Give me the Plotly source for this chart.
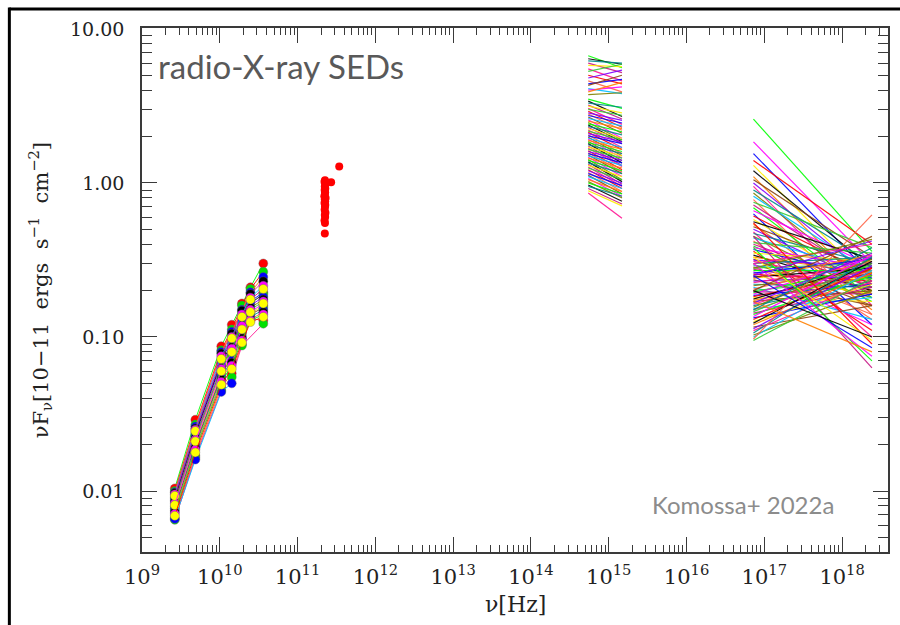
import plotly.graph_objects as go
import numpy as np

# ---------------- data ----------------
radio_freq = [2.64e9, 4.85e9, 10.45e9, 14.25e9, 19.25e9, 24.75e9, 36.25e9]
radio_epochs = [
    [0.0104, 0.0290, 0.087, 0.120, 0.165, 0.210, 0.300],
    [0.0100, 0.0270, 0.082, 0.112, 0.160, 0.205, 0.265],
    [0.0098, 0.0262, 0.080, 0.108, 0.150, 0.195, 0.245],
    [0.0097, 0.0255, 0.078, 0.105, 0.148, 0.190, 0.230],
    [0.0095, 0.0250, 0.075, 0.100, 0.140, 0.180, 0.215],
    [0.0093, 0.0245, 0.072, 0.098, 0.135, 0.175, 0.205],
    [0.0091, 0.0240, 0.070, 0.095, 0.130, 0.170, 0.195],
    [0.0089, 0.0232, 0.068, 0.090, 0.128, 0.165, 0.190],
    [0.0087, 0.0225, 0.066, 0.088, 0.125, 0.160, 0.182],
    [0.0085, 0.0220, 0.063, 0.086, 0.120, 0.155, 0.175],
    [0.0083, 0.0215, 0.062, 0.084, 0.118, 0.150, 0.170],
    [0.0081, 0.0210, 0.060, 0.080, 0.112, 0.145, 0.165],
    [0.0079, 0.0205, 0.058, 0.077, 0.108, 0.142, 0.160],
    [0.0077, 0.0200, 0.056, 0.075, 0.105, 0.140, 0.155],
    [0.0075, 0.0195, 0.055, 0.070, 0.100, 0.135, 0.150],
    [0.0073, 0.0190, 0.053, 0.068, 0.098, 0.130, 0.145],
    [0.0071, 0.0185, 0.051, 0.065, 0.095, 0.128, 0.140],
    [0.0069, 0.0178, 0.049, 0.062, 0.092, 0.125, 0.135],
    [0.0067, 0.0170, 0.047, 0.058, 0.090, 0.132, 0.128],
    [0.0065, 0.0165, 0.045, 0.055, 0.088, None, 0.122],
    [0.0066, 0.0160, 0.044, 0.050, None, None, None],
]
radio_colors = ["#ff0000", "#00e000", "#0000ff", "#000000", "#ff00ff", "#ffff00"]

mm_freq = [2.25e11, 2.22e11, 2.28e11, 2.24e11, 2.27e11, 2.23e11, 2.26e11, 2.25e11,
           2.21e11, 2.29e11, 2.24e11, 2.26e11, 2.22e11, 2.27e11, 2.25e11, 2.23e11,
           2.28e11, 2.24e11, 2.26e11, 2.22e11, 2.25e11, 2.24e11, 2.70e11, 3.43e11]
mm_flux = [1.04, 1.02, 0.98, 0.95, 0.92, 0.90, 0.87, 0.85,
           0.82, 0.80, 0.78, 0.76, 0.74, 0.72, 0.70, 0.67,
           0.64, 0.62, 0.60, 0.57, 0.55, 0.47, 1.01, 1.28]

uv_freq = [5.45e14, 1.48e15]
uv_left = [6.7, 6.4, 6.2, 6.0, 5.8, 5.5, 5.3, 5.0, 4.8, 4.6, 4.4, 4.3, 4.1, 4.0, 3.9, 3.75,
           3.50, 3.40, 3.30, 3.20, 3.15, 3.05, 3.00, 2.92, 2.85, 2.80, 2.74, 2.68, 2.62, 2.57,
           2.52, 2.47, 2.42, 2.38, 2.33, 2.29, 2.25, 2.21, 2.17, 2.13, 2.09, 2.05, 2.02, 1.98,
           1.95, 1.92, 1.89, 1.86, 1.83, 1.80, 1.77, 1.74, 1.71, 1.68, 1.65, 1.62, 1.60, 1.57,
           1.55, 1.52, 1.50, 1.47, 1.45, 1.42, 1.40, 1.37, 1.35, 1.32, 1.30, 1.27, 1.25, 1.22,
           1.20, 1.17, 1.15, 1.12, 1.10, 1.07, 1.05, 1.02, 1.00, 0.97, 0.95, 0.92, 0.89, 0.86]
uv_right = [5.6, 5.9, 6.0, 5.2, 5.7, 4.6, 5.9, 4.4, 5.4, 3.9, 4.7, 5.0, 3.8, 4.2, 4.5, 3.85,
            3.05, 2.70, 3.10, 2.60, 2.85, 2.40, 2.75, 2.30, 2.55, 2.20, 2.45, 2.10, 2.35, 1.95,
            2.25, 1.90, 2.15, 1.85, 2.05, 1.80, 1.95, 1.70, 1.90, 1.65, 1.85, 1.55, 1.80, 1.50,
            1.70, 1.45, 1.65, 1.40, 1.60, 1.35, 1.55, 1.30, 1.50, 1.28, 1.45, 1.22, 1.40, 1.18,
            1.35, 1.15, 1.30, 1.10, 1.25, 1.05, 1.20, 1.02, 1.15, 0.98, 1.10, 0.95, 1.05, 0.92,
            1.00, 0.88, 0.96, 0.85, 0.92, 0.82, 0.88, 0.80, 0.85, 0.76, 0.82, 0.73, 0.71, 0.59]

xray_freq = [7.25e16, 2.42e18]
xray_left = [2.60, 1.85, 1.55, 1.40, 1.30, 1.20, 1.10, 1.05, 1.00, 0.95, 0.90, 0.86, 0.82, 0.78,
             0.75, 0.72, 0.69, 0.66, 0.63, 0.61, 0.58, 0.56, 0.54, 0.52, 0.50, 0.48, 0.47, 0.45,
             0.44, 0.42, 0.41, 0.40, 0.39, 0.38, 0.37, 0.36, 0.35, 0.34, 0.33, 0.32, 0.315, 0.31,
             0.30, 0.295, 0.29, 0.285, 0.28, 0.275, 0.27, 0.265, 0.26, 0.255, 0.25, 0.245, 0.24,
             0.235, 0.23, 0.225, 0.22, 0.215, 0.21, 0.205, 0.20, 0.197, 0.194, 0.19, 0.186, 0.183,
             0.18, 0.176, 0.173, 0.17, 0.166, 0.163, 0.16, 0.156, 0.153, 0.15, 0.146, 0.143, 0.14,
             0.136, 0.133, 0.13, 0.126, 0.123, 0.12, 0.116, 0.113, 0.11, 0.106, 0.103, 0.10,
             0.097, 0.095, 0.45, 0.38, 0.30, 0.25, 0.55, 0.33, 0.20, 0.17, 0.20, 0.25, 0.30,
             0.15, 0.28]
xray_right = [0.36, 0.30, 0.25, 0.40, 0.22, 0.28, 0.19, 0.33, 0.24, 0.16, 0.30, 0.21, 0.26, 0.14,
              0.38, 0.23, 0.18, 0.29, 0.12, 0.25, 0.20, 0.32, 0.15, 0.27, 0.22, 0.10, 0.30, 0.19,
              0.26, 0.13, 0.35, 0.21, 0.17, 0.28, 0.24, 0.11, 0.31, 0.20, 0.26, 0.16, 0.29, 0.22,
              0.33, 0.18, 0.25, 0.14, 0.30, 0.21, 0.27, 0.12, 0.32, 0.23, 0.19, 0.28, 0.34,
              0.16, 0.25, 0.30, 0.21, 0.27, 0.13, 0.31, 0.24, 0.19, 0.29, 0.33, 0.22, 0.26,
              0.17, 0.30, 0.25, 0.20, 0.35, 0.28, 0.23, 0.32, 0.18, 0.27, 0.30, 0.21, 0.25,
              0.34, 0.19, 0.28, 0.22, 0.31, 0.26, 0.16, 0.29, 0.23, 0.33, 0.20, 0.27,
              0.62, 0.24, 0.063, 0.070, 0.075, 0.085, 0.090, 0.095, 0.10, 0.08, 0.45, 0.42, 0.40,
              0.38, 0.43]

line_colors = ["#00ff00", "#ff00ff", "#0000ff", "#ff0000", "#ffee00", "#000000", "#ff8000",
               "#8b4513", "#8000ff", "#ff1493", "#008b8b", "#808000", "#00bfff", "#ff6347",
               "#32cd32", "#c71585"]

x_major = [1e9, 1e10, 1e11, 1e12, 1e13, 1e14, 1e15, 1e16, 1e17, 1e18]
x_major_text = ["10<sup>%d</sup>" % e for e in range(9, 19)]
y_major = [0.01, 0.1, 1.0, 10.0]
y_major_text = ["0.01", "0.10", "1.00", "10.00"]

# ---------------- figure ----------------
fig = go.Figure()

# X-ray
for i, (a, b) in enumerate(zip(xray_left, xray_right)):
    fig.add_trace(go.Scatter(x=xray_freq, y=[a, b], mode="lines",
                             line=dict(color=line_colors[i % len(line_colors)], width=1.2),
                             opacity=0.9, hoverinfo="skip", showlegend=False))
# UV / optical
for i, (a, b) in enumerate(zip(uv_left, uv_right)):
    fig.add_trace(go.Scatter(x=uv_freq, y=[a, b], mode="lines",
                             line=dict(color=line_colors[(i * 5) % len(line_colors)], width=1.2),
                             opacity=0.9, hoverinfo="skip", showlegend=False))
# radio (drawn grouped by marker colour, yellow last so it sits on top)
order = sorted(range(len(radio_epochs)), key=lambda k: (k % len(radio_colors), k))
for i in order:
    ep = radio_epochs[i]
    c = radio_colors[i % len(radio_colors)]
    fig.add_trace(go.Scatter(x=radio_freq, y=ep, mode="lines+markers", connectgaps=True,
                             line=dict(color=line_colors[(i * 3) % len(line_colors)], width=0.9),
                             marker=dict(color=c, size=9, line=dict(width=0.4, color="#666666")),
                             hoverinfo="skip", showlegend=False))
# mm
fig.add_trace(go.Scatter(x=mm_freq, y=mm_flux, mode="markers",
                         marker=dict(color="#ff0000", size=8, line=dict(width=0)),
                         hoverinfo="skip", showlegend=False))

x_minor = [k * 10.0 ** d for d in range(9, 19) for k in range(2, 10)]
y_minor = [k * 10.0 ** d for d in range(-3, 2) for k in range(2, 10)]

axis_font = dict(family="DejaVu Serif", size=19, color="#222222")
fig.update_xaxes(type="log", range=[9.0, 18.59], showgrid=False, zeroline=False,
                 showline=True, linecolor="#3a3a3a", linewidth=1.5, mirror="allticks",
                 ticks="inside", ticklen=15, tickwidth=1.2, tickcolor="#3a3a3a",
                 tickmode="array", tickvals=x_major, ticktext=x_major_text,
                 tickfont=dict(family="DejaVu Serif", size=21, color="#222222"),
                 ticklabelstandoff=5,
                 minor=dict(ticks="inside", ticklen=7, tickwidth=1.1, tickcolor="#3a3a3a",
                            tickmode="array", tickvals=x_minor, showgrid=False))
fig.update_yaxes(type="log", range=[-2.396, 1.006], showgrid=False, zeroline=False,
                 showline=True, linecolor="#3a3a3a", linewidth=1.5, mirror="allticks",
                 ticks="inside", ticklen=15, tickwidth=1.2, tickcolor="#3a3a3a",
                 tickmode="array", tickvals=y_major, ticktext=y_major_text,
                 tickfont=axis_font, ticklabelstandoff=12,
                 minor=dict(ticks="inside", ticklen=10, tickwidth=1.1, tickcolor="#3a3a3a",
                            tickmode="array", tickvals=y_minor, showgrid=False))

fig.update_layout(
    width=900, height=625,
    margin=dict(l=142, r=10, t=28, b=73),
    paper_bgcolor="white", plot_bgcolor="white",
    showlegend=False,
    annotations=[
        dict(text="radio-X-ray SEDs", x=0.019, y=0.928, xref="paper", yref="paper",
             xanchor="left", yanchor="middle", showarrow=False,
             font=dict(family="Lato", size=33, color="#595959")),
        dict(text="Komossa+ 2022a", x=0.805, y=0.09, xref="paper", yref="paper",
             xanchor="center", yanchor="middle", showarrow=False,
             font=dict(family="Lato", size=24, color="#8c8c8c")),
        dict(text="νF<sub>ν</sub>[10−11  ergs  s<sup>−1</sup>  cm<sup>−2</sup>]",
             x=-0.1364, y=0.5, xref="paper", yref="paper", textangle=-90,
             xanchor="center", yanchor="middle", showarrow=False,
             font=dict(family="DejaVu Serif", size=21, color="#222222")),
        dict(text="ν[Hz]", x=0.501, y=-0.101, xref="paper", yref="paper",
             xanchor="center", yanchor="middle", showarrow=False,
             font=dict(family="DejaVu Serif", size=22, color="#222222")),
    ],
    shapes=[
        dict(type="line", xref="paper", yref="paper", x0=-0.1778, x1=1.03, y0=1.0363, y1=1.0363,
             line=dict(color="black", width=3)),
        dict(type="line", xref="paper", yref="paper", x0=-0.1778, x1=-0.1778, y0=1.039, y1=-0.16,
             line=dict(color="black", width=3)),
    ],
)

fig.write_html("out.html")
